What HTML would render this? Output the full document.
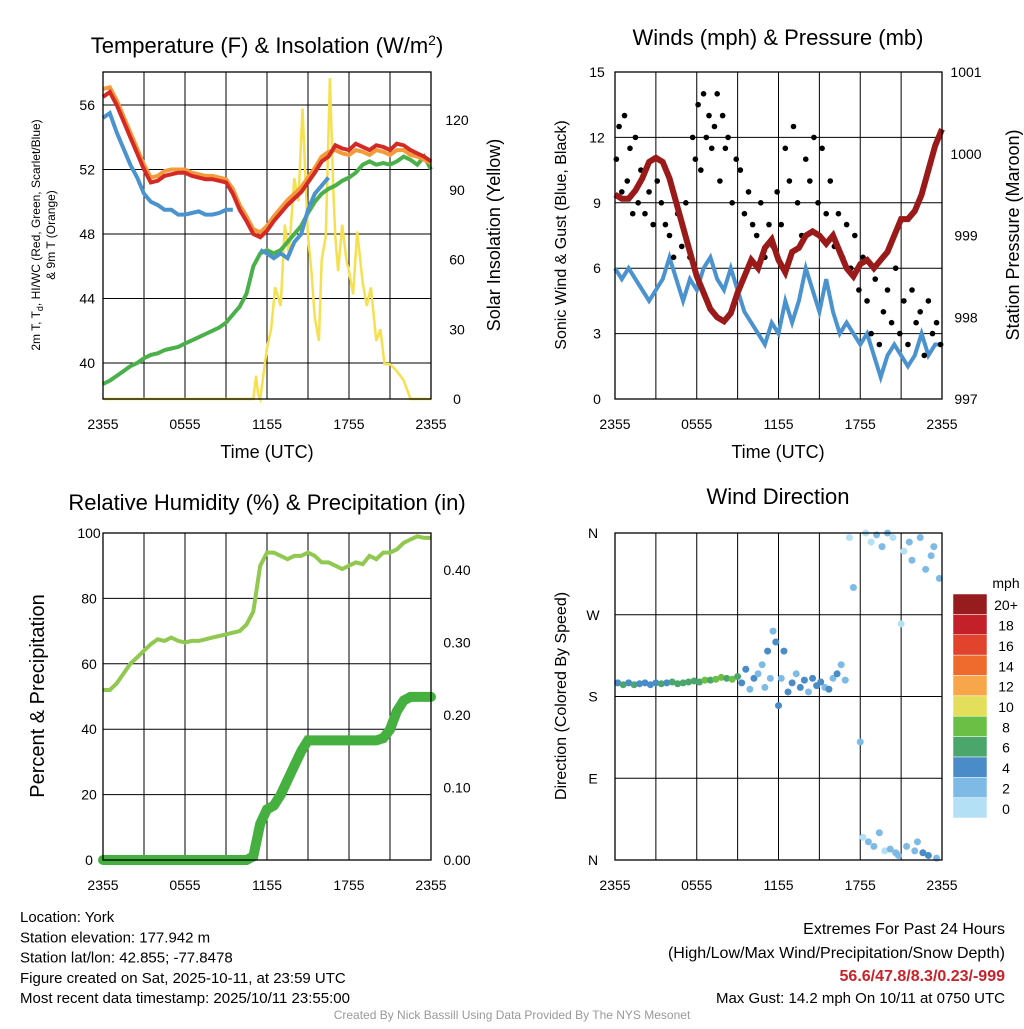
<!DOCTYPE html>
<html><head><meta charset="utf-8"><style>
body{margin:0;background:#fff;width:1024px;height:1024px;overflow:hidden}
svg text{font-family:"Liberation Sans",sans-serif}
</style></head><body>
<svg id="c" width="1024" height="1024" xmlns="http://www.w3.org/2000/svg"></svg>
<script>
// ---------- data ----------
const halfHours=[0,0.5,1,1.5,2,2.5,3,3.5,4,4.5,5,5.5,6,6.5,7,7.5,8,8.5,9,9.5,10,10.5,11,11.5,12,12.5,13,13.5,14,14.5,15,15.5,16,16.5,17,17.5,18,18.5,19,19.5,20,20.5,21,21.5,22,22.5,23,23.5,24];
const xTickLabels=["2355","0555","1155","1755","2355"];
const tempRed=[56.5,56.8,56,55,54,53,52,51.2,51.3,51.6,51.7,51.8,51.8,51.6,51.5,51.4,51.4,51.3,51.2,50.5,49.5,48.8,48,47.8,48.2,48.8,49.3,49.8,50.2,50.6,51.2,51.8,52.5,52.8,53.5,53.3,53.2,53.6,53.4,53.2,53.5,53.4,53.2,53.6,53.5,53.2,53,52.8,52.5];
const temp9m=[57,57.1,56.3,55.3,54.3,53.3,52.3,51.5,51.6,51.9,52,52,52,51.8,51.7,51.6,51.6,51.5,51.4,50.8,49.8,49.1,48.3,48.1,48.5,49.1,49.6,50.1,50.5,50.9,51.5,52.1,52.8,53.1,53.2,53,52.9,53.2,53.1,52.9,53.2,53.1,52.9,53.2,53.2,52.9,52.8,52.6,52.4];
const dewBlue=[55.2,55.5,54.3,53.3,52.3,51.5,50.5,50,49.8,49.5,49.5,49.2,49.2,49.3,49.4,49.2,49.2,49.3,49.5,49.5,null,null,null,47,46.8,46.5,46.8,46.5,47.5,48,49.5,50.5,51,51.5,null,null,null,null,null,null,null,null,null,null,null,null,null,null,null];
const dewGreen=[38.7,38.9,39.2,39.5,39.8,40,40.3,40.5,40.6,40.8,40.9,41,41.2,41.4,41.6,41.8,42,42.2,42.5,43,43.5,44.3,46,46.8,47,46.8,47,47.5,48,48.5,49.3,50,50.5,50.8,51,51.3,51.5,51.8,52.3,52.5,52.3,52.4,52.3,52.5,52.8,52.6,52.3,52.8,52];
const solarHours=[0,11,11.2,11.35,11.5,12,12.3,12.6,13,13.3,13.6,14,14.3,14.6,15,15.25,15.5,15.8,16,16.3,16.6,16.85,17,17.2,17.5,17.8,18,18.3,18.6,19,19.3,19.6,20,20.3,20.6,21,21.5,22,22.5,24];
const solarVals=[0,0,10,2,0,22,30,48,40,75,62,95,85,125,70,55,35,25,60,70,138,90,70,55,75,60,55,45,72,50,40,48,25,30,15,15,12,8,0,0];
const windBlue=[6,5.5,6,5.5,5,4.5,5,5.5,6.5,5.5,4.5,5.5,5,6,6.5,5.5,5,6,5,4,3.5,3,2.5,3.5,3,4.5,3.5,4.5,6,5,4,5.5,4,3,3.5,3,2.5,3,2,1,2,2.5,2,1.5,2,3,2,2.5,2.5];
const pressure=[999.5,999.45,999.45,999.55,999.7,999.9,999.95,999.9,999.7,999.4,999.1,998.8,998.5,998.3,998.1,998,997.95,998.05,998.3,998.5,998.7,998.6,998.85,998.95,998.7,998.55,998.8,998.85,999,999.05,999,998.9,999,998.8,998.6,998.5,998.65,998.7,998.6,998.7,998.8,999,999.2,999.2,999.3,999.5,999.8,1000.1,1000.3];
const gustHours=[0.1,0.3,0.5,0.7,0.9,1.1,1.3,1.5,1.7,1.9,2.2,2.5,2.8,3.1,3.4,3.7,4,4.3,4.6,4.9,5.2,5.5,5.7,5.9,6.1,6.3,6.5,6.7,6.9,7.1,7.3,7.5,7.7,7.9,8.1,8.3,8.6,8.9,9.2,9.5,9.8,10.1,10.4,10.7,11,11.3,11.6,11.9,12.2,12.5,12.8,13.1,13.4,13.7,14,14.3,14.6,14.9,15.2,15.5,15.8,16.1,16.4,16.7,17,17.3,17.6,17.9,18.2,18.5,18.8,19.1,19.4,19.7,20,20.3,20.6,20.9,21.2,21.5,21.8,22.1,22.4,22.7,23,23.3,23.6,23.9];
const gustVals=[11,12.5,9.5,13,10,11.5,8.5,12,9,10.5,8.5,9.5,8,10,9,8,7.5,6.5,8.5,7,9,6.5,12,11,13.5,10.5,14,12,13,11.5,12.5,14,10,13,11.5,12,9,11,10.5,8.5,9.5,8,7.5,9,6.5,8,7,9.5,8,11.5,10,12.5,9,7.5,11,10,12,9,11.5,8.5,10,7,8.5,6.5,8,6,7.5,5,6.5,4.5,3,5.5,2.5,4,5,3.5,6,3,4.5,2.5,5,3.5,4,2,4.5,3,3.5,2.5];
const rh=[52,52,54,57,60,62,64,66,67.5,67,68,67,66.5,67,67,67.5,68,68.5,69,69.5,70,72,76,90,94,94,93,92,93,93,94,93,91,91,90,89,90,91,90.5,93,92,94,94,95,97,98,99,98.5,98.5];
const precip=[0,0,0,0,0,0,0,0,0,0,0,0,0,0,0,0,0,0,0,0,0,0,0.005,0.05,0.07,0.075,0.09,0.11,0.13,0.15,0.165,0.165,0.165,0.165,0.165,0.165,0.165,0.165,0.165,0.165,0.165,0.168,0.18,0.205,0.22,0.225,0.225,0.225,0.225];
const dirHours=[0.2,0.6,1,1.4,1.8,2.2,2.6,3,3.4,3.8,4.2,4.6,5,5.4,5.8,6.2,6.6,7,7.4,7.8,8.2,8.6,9,9.3,9.6,9.9,10.2,10.5,10.8,11,11.2,11.4,11.6,11.8,12,12.2,12.4,12.7,13,13.3,13.6,13.9,14.2,14.5,14.8,15.1,15.4,15.7,16,16.3,16.6,16.9,17.2,17.5,18,18.2,18.4,18.6,18.8,19,19.2,19.4,19.6,19.8,20,20.2,20.4,20.6,20.8,21,21.2,21.4,21.6,21.8,22,22.2,22.4,22.6,22.8,23,23.2,23.4,23.6,23.8];
const dirVals=[195,193,195,193,194,195,193,195,194,195,196,194,195,196,197,196,198,198,199,201,200,199,202,195,210,188,200,205,215,190,230,200,252,240,170,200,230,185,195,205,190,198,185,200,192,196,190,188,200,205,215,198,355,300,130,25,360,20,350,15,358,30,345,10,360,12,355,8,5,260,340,15,350,330,10,20,355,8,320,5,335,345,2,310];
const dirSpeeds=[5,6,5,6,5,4,5,5,6,5,6,7,6,6,7,7,8,7,8,8,7,8,7,4,5,3,4,3,3,2,4,3,3,4,4,3,4,4,5,3,4,5,3,4,5,4,3,4,3,4,3,2,1,2,2,1,0,2,1,3,3,2,2,1,2,3,1,3,2,1,0,2,3,2,3,2,3,4,3,4,2,2,3,2];
const speedColors=["#b3e0f5","#7dbbe6","#4a8cc8","#4aa66a","#6cbf45","#e3df5a","#f7a74a","#ef6a2d","#e2432c","#c3202a","#961c1e"];
const speedLabels=["0","2","4","6","8","10","12","14","16","18","20+"];

// ---------- helpers ----------
const S=document.getElementById('c');const NS="http://www.w3.org/2000/svg";
function mk(t,a,p){const e=document.createElementNS(NS,t);for(const k in a)e.setAttribute(k,a[k]);(p||S).appendChild(e);return e;}
function txt(x,y,s,size,anchor,extra){const e=mk('text',Object.assign({x:x,y:y,'font-size':size,'text-anchor':anchor||'middle',fill:'#000'},extra||{}));e.textContent=s;return e;}
function lin(a,b,c,d){return v=>c+(v-a)*(d-c)/(b-a);}
function pathFrom(xs,ys,fx,fy){let d='',pen=false;for(let i=0;i<xs.length;i++){if(ys[i]==null){pen=false;continue;}d+=(pen?'L':'M')+fx(xs[i]).toFixed(1)+','+fy(ys[i]).toFixed(1);pen=true;}return d;}
function frame(x0,y0,x1,y1,name){
  const g=mk('g',{});
  for(let i=1;i<8;i++){const x=x0+(x1-x0)*i/8;mk('line',{x1:x,y1:y0,x2:x,y2:y1,stroke:'#000','stroke-width':1},g);}
  const fx=lin(0,24,x0,x1);
  xTickLabels.forEach((l,i)=>{const t=txt(x0+(x1-x0)*i/4,y1+30,l,14);});
  return fx;
}
function box(x0,y0,x1,y1){mk('rect',{x:x0,y:y0,width:x1-x0,height:y1-y0,fill:'none',stroke:'#000','stroke-width':1.3});}
function hgrid(ys,x0,x1){ys.forEach(y=>mk('line',{x1:x0,y1:y,x2:x1,y2:y,stroke:'#000','stroke-width':1}));}

// ---------- Panel 1 ----------
{const x0=103,x1=431,y0=72,y1=399;
const fx=frame(x0,y0,x1,y1,'temperature-panel');
const fy=lin(40,56,363,105),fs=lin(0,120,399,120);
hgrid([40,44,48,52,56].map(fy),x0,x1);
[40,44,48,52,56].forEach(v=>txt(x0-8,fy(v)+5,String(v),14,'end'));
[0,30,60,90,120].forEach(v=>txt(x1+26,fs(v)+5,String(v),14,'middle'));
let p;
p=mk('path',{d:pathFrom(solarHours,solarVals,fx,fs),fill:'none',stroke:'#f5e050','stroke-width':2.5});
p=mk('path',{d:pathFrom(halfHours,dewGreen,fx,fy),fill:'none',stroke:'#4ab04a','stroke-width':4});
p=mk('path',{d:pathFrom(halfHours,dewBlue,fx,fy),fill:'none',stroke:'#4b93cf','stroke-width':4});
p=mk('path',{d:pathFrom(halfHours,temp9m,fx,fy),fill:'none',stroke:'#f39a3a','stroke-width':4});
p=mk('path',{d:pathFrom(halfHours,tempRed,fx,fy),fill:'none',stroke:'#d42a25','stroke-width':4});
box(x0,y0,x1,y1);
let t=txt(267,53,'',22);t.innerHTML='Temperature (F) &amp; Insolation (W/m<tspan dy="-8" font-size="14">2</tspan><tspan dy="8">)</tspan>';
t=txt(0,0,'',12,'middle',{transform:'translate(40,235) rotate(-90)'});t.innerHTML='2m T, T<tspan dy="3" font-size="9">d</tspan><tspan dy="-3">, HI/WC (Red, Green, Scarlet/Blue)</tspan>';
t=txt(0,0,'& 9m T (Orange)',12,'middle',{transform:'translate(55,235) rotate(-90)'});
t=txt(0,0,'Solar Insolation (Yellow)',18,'middle',{transform:'translate(500,235) rotate(-90)'});
t=txt(267,458,'Time (UTC)',18);
}
// ---------- Panel 2 ----------
{const x0=615,x1=942,y0=72,y1=399;
const fx=frame(x0,y0,x1,y1,'winds-panel');
const fy=lin(0,15,399,72),fp=lin(997,1001,399,72);
hgrid([3,6,9,12].map(fy),x0,x1);
[0,3,6,9,12,15].forEach(v=>txt(x0-18,fy(v)+5,String(v),14,'middle'));
[997,998,999,1000,1001].forEach(v=>txt(x1+24,fp(v)+5,String(v),14,'middle'));
let p=mk('path',{d:pathFrom(halfHours,windBlue,fx,fy),fill:'none',stroke:'#4b93cf','stroke-width':4});
gustHours.forEach((h,i)=>{const c=mk('circle',{cx:fx(h),cy:fy(gustVals[i]),r:2.8,fill:'#000'});});
p=mk('path',{d:pathFrom(halfHours,pressure,fx,fp),fill:'none',stroke:'#9a1a1a','stroke-width':6});
box(x0,y0,x1,y1);
let t=txt(778,45,'Winds (mph) & Pressure (mb)',22);
t=txt(0,0,'Sonic Wind & Gust (Blue, Black)',16,'middle',{transform:'translate(566,235) rotate(-90)'});
t=txt(0,0,'Station Pressure (Maroon)',18,'middle',{transform:'translate(1019,235) rotate(-90)'});
t=txt(778,458,'Time (UTC)',18);
}
// ---------- Panel 3 ----------
{const x0=103,x1=431,y0=533,y1=860;
const fx=frame(x0,y0,x1,y1,'humidity-panel');
const fy=lin(0,100,860,533),fr=lin(0,0.4,860,570);
hgrid([20,40,60,80].map(fy),x0,x1);
[0,20,40,60,80,100].forEach(v=>txt(x0-14,fy(v)+5,String(v),14,'middle'));
[0,0.1,0.2,0.3,0.4].forEach(v=>txt(x1+26,fr(v)+5,v.toFixed(2),14,'middle'));
let p=mk('path',{d:pathFrom(halfHours,rh,fx,fy),fill:'none',stroke:'#90c850','stroke-width':4});
p=mk('path',{d:pathFrom(halfHours,precip,fx,fr),fill:'none',stroke:'#45b040','stroke-width':10,'stroke-linecap':'round'});
box(x0,y0,x1,y1);
let t=txt(267,510,'Relative Humidity (%) & Precipitation (in)',22);
t=txt(0,0,'Percent & Precipitation',20,'middle',{transform:'translate(44,696) rotate(-90)'});
}
// ---------- Panel 4 ----------
{const x0=615,x1=942,y0=533,y1=860;
const fx=frame(x0,y0,x1,y1,'wind-direction-panel');
const fy=lin(0,360,860,533);
hgrid([90,180,270].map(fy),x0,x1);
['N','E','S','W','N'].forEach((l,i)=>txt(x0-22,fy(i*90)+5,l,14,'middle'));
dirHours.forEach((h,i)=>{const c=mk('circle',{cx:fx(h),cy:fy(dirVals[i]),r:3.5,fill:speedColors[Math.min(10,Math.floor(dirSpeeds[i]/2))]});});
box(x0,y0,x1,y1);
let t=txt(778,504,'Wind Direction',22);
t=txt(0,0,'Direction (Colored By Speed)',16,'middle',{transform:'translate(566,696) rotate(-90)'});
const lg=mk('g',{});
txt(1006,588,'mph',14,'middle');
const bh=(818-594)/11;
for(let i=0;i<11;i++){const y=594+(10-i)*bh;mk('rect',{x:953,y:y,width:34,height:bh,fill:speedColors[i],stroke:'#fff','stroke-width':0.5},lg);txt(1006,y+bh/2+6,speedLabels[i],14,'middle');}
}
// ---------- footer ----------
["Location: York","Station elevation: 177.942 m","Station lat/lon: 42.855; -77.8478","Figure created on Sat, 2025-10-11, at 23:59 UTC","Most recent data timestamp: 2025/10/11 23:55:00"].forEach((s,i)=>{const t=txt(20,922+i*20.3,s,15,'start');});
txt(1005,934,'Extremes For Past 24 Hours',16,'end');
txt(1005,958,'(High/Low/Max Wind/Precipitation/Snow Depth)',16,'end');
let tt=txt(1005,981,'56.6/47.8/8.3/0.23/-999',16,'end',{fill:'#c8222a','font-weight':'bold'});
txt(1005,1003,'Max Gust: 14.2 mph On 10/11 at 0750 UTC',15,'end');
tt=txt(512,1019,'Created By Nick Bassill Using Data Provided By The NYS Mesonet',12,'middle',{fill:'#999'});
</script>
</body></html>
